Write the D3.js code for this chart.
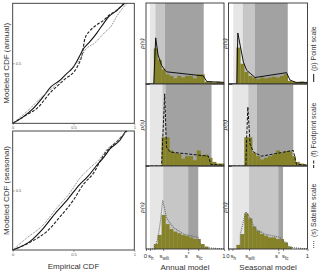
<!DOCTYPE html>
<html>
<head>
<meta charset="utf-8">
<script src="https://cdn.jsdelivr.net/npm/d3@7"></script>
<style>
  body { margin: 0; background: #fff; }
  svg { display: block; font-family: "Liberation Sans", Arial, sans-serif; }
</style>
</head>
<body>
<div></div>
<script>
// CDF comparison points [empirical, modeled]
const cdfAnnualPoint = [[0,0],[0.088,0.056],[0.17,0.125],[0.25,0.22],[0.31,0.30],[0.39,0.36],[0.44,0.41],[0.50,0.47],[0.55,0.56],[0.575,0.61],[0.635,0.68],[0.69,0.75],[0.76,0.85],[0.79,0.89],[0.83,0.92],[0.92,1]];
const cdfAnnualFoot = [[0,0],[0.115,0.07],[0.20,0.125],[0.31,0.255],[0.42,0.36],[0.53,0.47],[0.57,0.57],[0.595,0.71],[0.635,0.77],[0.69,0.82],[0.745,0.855],[0.79,0.90],[0.855,0.94],[0.915,1]];
const cdfAnnualSat = [[0,0],[0.115,0.097],[0.25,0.23],[0.39,0.35],[0.485,0.46],[0.55,0.53],[0.595,0.61],[0.675,0.67],[0.76,0.76],[0.81,0.81],[0.855,0.89],[0.94,1]];
const cdfSeasonalPoint = [[0,0],[0.14,0.07],[0.25,0.18],[0.36,0.32],[0.44,0.41],[0.55,0.55],[0.62,0.62],[0.69,0.71],[0.75,0.78],[0.80,0.85],[0.88,0.92],[0.93,1]];
const cdfSeasonalFoot = [[0,0],[0.17,0.08],[0.28,0.155],[0.39,0.28],[0.50,0.42],[0.58,0.55],[0.66,0.64],[0.75,0.80],[0.79,0.85],[0.855,0.91],[0.92,0.98],[0.94,1]];
const cdfSeasonalSat = [[0,0],[0.115,0.10],[0.25,0.21],[0.36,0.35],[0.47,0.48],[0.55,0.60],[0.635,0.69],[0.72,0.77],[0.77,0.84],[0.84,0.90],[0.93,0.99],[0.94,1]];
const cdfTicks = [0, 0.5, 1];

// histogram bins of soil moisture s
const binStarts = [0,0.05,0.1,0.15,0.2,0.25,0.3,0.35,0.4,0.45,0.5,0.55,0.6,0.65,0.7,0.75,0.8,0.85,0.9,0.95];
const binWidth = 0.05;
const histAnnualP = [0,0,0.44,0.30,0.18,0.12,0.10,0.07,0.10,0.08,0.10,0.10,0.07,0.12,0.12,0.03,0.03,0.02,0.03,0.02];
const histSeasonalP = [0,0,0.45,0.25,0.15,0.10,0.08,0.06,0.08,0.07,0.08,0.09,0.08,0.10,0.12,0.04,0.03,0.02,0.03,0.02];
const histAnnualF = [0,0,0,0,0.35,0.35,0.19,0.16,0.15,0.09,0.12,0.12,0.07,0.19,0.13,0.14,0.10,0.05,0.03,0.03];
const histSeasonalF = [0,0,0,0,0.35,0.35,0.16,0.12,0.08,0.10,0.12,0.14,0.19,0.16,0.18,0.18,0.12,0.05,0.03,0.02];
const histAnnualS = [0,0,0.06,0.17,0.41,0.30,0.24,0.21,0.19,0.17,0.16,0.14,0.12,0.12,0.06,0.03,0,0,0,0];
const histSeasonalS = [0,0,0.05,0.18,0.43,0.37,0.27,0.22,0.18,0.16,0.14,0.14,0.12,0.12,0.08,0.03,0,0,0,0];

// modeled pdf p(s) [s, p]
const pdfAnnualP = [[0,0],[0.10,0],[0.124,0.57],[0.154,0.36],[0.20,0.23],[0.244,0.17],[0.265,0.15],[0.735,0.10],[0.78,0.03],[1,0.02]];
const pdfSeasonalP = [[0,0],[0.106,0],[0.118,0.63],[0.147,0.48],[0.189,0.27],[0.23,0.17],[0.336,0.08],[0.735,0.14],[0.777,0.05],[0.85,0.02],[1,0.02]];
const pdfAnnualF = [[0,0],[0.20,0],[0.215,0.35],[0.24,0.88],[0.262,0.23],[0.31,0.17],[0.80,0.12],[0.83,0.02],[1,0.01]];
const pdfSeasonalF = [[0,0],[0.22,0],[0.23,0.35],[0.245,0.72],[0.273,0.27],[0.315,0.17],[0.42,0.12],[0.59,0.15],[0.82,0.19],[0.86,0.02],[1,0.01]];
const pdfAnnualS = [[0,0],[0.115,0],[0.158,0.16],[0.19,0.37],[0.214,0.59],[0.265,0.37],[0.35,0.26],[0.48,0.18],[0.67,0.14],[0.71,0.02],[1,0]];
const pdfSeasonalS = [[0,0],[0.147,0],[0.15,0.18],[0.22,0.45],[0.273,0.37],[0.336,0.24],[0.46,0.18],[0.65,0.14],[0.71,0.09],[0.78,0.02],[1,0]];

// thresholds [s_h, s_wilt, s*, s_fc]
const thrAnnualP = [0.05,0.12,0.24,0.74];
const thrSeasonalP = [0.06,0.18,0.33,0.75];
const thrAnnualF = [0.05,0.21,0.25,0.84];
const thrSeasonalF = [0.05,0.25,0.36,0.82];
const thrAnnualS = [0.05,0.22,0.54,0.67];
const thrSeasonalS = [0.05,0.26,0.63,0.69];

const scaleNames = ["(p) Point scale", "(f) Footprint scale", "(s) Satellite scale"];
const modelNames = ["Annual model", "Seasonal model"];

const w = 320;
const h = 271;
const svg = d3.select("div").append("svg").attr("width", w).attr("height", h);

const styles = [
  { color: "#111", width: 1.1, dash: null },
  { color: "#222", width: 1.1, dash: "3,1.5" },
  { color: "#777", width: 1, dash: "1,1" },
];

// ---- CDF panels ----
function cdfPanel(top, bottom, series, label) {
  const x = d3.scaleLinear().domain([0, 1]).range([12.7, 134.3]);
  const y = d3.scaleLinear().domain([0, 1]).range([bottom, top]);
  const g = svg.append("g");
  g.append("g")
    .attr("transform", "translate(0," + bottom + ")")
    .call(d3.axisBottom(x).tickValues(cdfTicks).tickSize(2).tickPadding(1).tickFormat(d3.format("")))
    .call((a) => a.select(".domain").remove())
    .selectAll("text").attr("font-size", 4).attr("fill", "#555");
  g.append("g")
    .attr("transform", "translate(" + x(0) + ",0)")
    .call(d3.axisRight(y).tickValues([0.5]).tickSize(2).tickPadding(1).tickFormat(d3.format("")))
    .call((a) => a.select(".domain").remove())
    .selectAll("text").attr("font-size", 4).attr("fill", "#555");
  g.selectAll(".tick line").attr("stroke", "#555").attr("stroke-width", 0.5);
  const line = d3.line().x((d) => x(d[0])).y((d) => y(d[1])).curve(d3.curveMonotoneX);
  series.forEach((s, i) => {
    g.append("path")
      .datum(s)
      .attr("d", line)
      .attr("fill", "none")
      .attr("stroke", styles[i].color)
      .attr("stroke-width", styles[i].width)
      .attr("stroke-dasharray", styles[i].dash);
  });
  g.append("rect")
    .attr("x", x(0)).attr("y", top)
    .attr("width", x(1) - x(0)).attr("height", bottom - top)
    .attr("fill", "none").attr("stroke", "#333").attr("stroke-width", 0.9);
  g.append("text")
    .attr("transform", "translate(9," + (top + bottom) / 2 + ") rotate(-90)")
    .attr("text-anchor", "middle")
    .attr("font-size", 8).attr("fill", "#333")
    .text(label);
}
cdfPanel(3.3, 123.3, [cdfAnnualPoint, cdfAnnualFoot, cdfAnnualSat], "Modeled CDF (annual)");
cdfPanel(131, 250, [cdfSeasonalPoint, cdfSeasonalFoot, cdfSeasonalSat], "Modeled CDF (seasonal)");
svg.append("text")
  .attr("x", 73.5).attr("y", 269)
  .attr("text-anchor", "middle")
  .attr("font-size", 8).attr("fill", "#333")
  .text("Empirical CDF");

// ---- pdf panels ----
const cols = [[146, 224], [228.5, 307.5]];
const rows = [[3, 84], [84, 166], [166, 249]];
const hists = [[histAnnualP, histSeasonalP], [histAnnualF, histSeasonalF], [histAnnualS, histSeasonalS]];
const pdfs = [[pdfAnnualP, pdfSeasonalP], [pdfAnnualF, pdfSeasonalF], [pdfAnnualS, pdfSeasonalS]];
const thrs = [[thrAnnualP, thrSeasonalP], [thrAnnualF, thrSeasonalF], [thrAnnualS, thrSeasonalS]];
const bandColors = ["#e6e6e6", "#c6c6c6", "#a2a2a2"];

rows.forEach((r, ri) => {
  cols.forEach((c, ci) => {
    const x = d3.scaleLinear().domain([0, 1]).range(c);
    const y = d3.scaleLinear().domain([0, 1]).range([r[1], r[0]]);
    const g = svg.append("g");
    const t = thrs[ri][ci];
    g.selectAll("rect.band")
      .data([0, 1, 2])
      .enter()
      .append("rect")
      .attr("x", (d) => x(t[d]))
      .attr("y", r[0])
      .attr("width", (d) => x(t[d + 1]) - x(t[d]))
      .attr("height", r[1] - r[0])
      .attr("fill", (d) => bandColors[d]);
    g.selectAll("rect.bar")
      .data(hists[ri][ci])
      .enter()
      .append("rect")
      .attr("x", (d, i) => x(binStarts[i]))
      .attr("y", (d) => y(d))
      .attr("width", x(binWidth) - x(0) + 0.2)
      .attr("height", (d) => y(0) - y(d))
      .attr("fill", "#85822a");
    g.append("path")
      .datum(pdfs[ri][ci])
      .attr("d", d3.line().x((d) => x(d[0])).y((d) => y(d[1])))
      .attr("fill", "none")
      .attr("stroke", styles[ri].color)
      .attr("stroke-width", ri === 2 ? 1.1 : 1)
      .attr("stroke-dasharray", ri === 0 ? null : ri === 1 ? "3,1.5" : "1,1")
      .attr("stroke", ri === 2 ? "#666" : "#111");
    g.append("rect")
      .attr("x", c[0]).attr("y", r[0])
      .attr("width", c[1] - c[0]).attr("height", r[1] - r[0])
      .attr("fill", "none").attr("stroke", "#333").attr("stroke-width", 0.9);
    g.append("text")
      .attr("transform", "translate(" + (c[0] - 2) + "," + (r[0] + r[1]) / 2 + ") rotate(-90)")
      .attr("text-anchor", "middle")
      .attr("font-size", 6).attr("font-style", "italic").attr("fill", "#333")
      .text("p(s)");

    if (ri === 2) {
      const ticks = [0].concat(t).concat([1]);
      g.append("g")
        .attr("transform", "translate(0," + r[1] + ")")
        .call(d3.axisBottom(x).tickValues(ticks).tickSize(2).tickFormat(""))
        .call((a) => a.select(".domain").remove())
        .selectAll(".tick line").attr("stroke", "#333").attr("stroke-width", 0.6);
      const labs = [
        { v: 0, main: "0", sub: "", sup: "", anchor: "end", dx: 1 },
        { v: t[0], main: "s", sub: "h", sup: "", anchor: "start", dx: -2 },
        { v: t[1], main: "s", sub: "wilt", sup: "", anchor: "middle", dx: 1 },
        { v: t[2], main: "s", sub: "", sup: "*", anchor: "end", dx: 1.5 },
        { v: t[3], main: "s", sub: "fc", sup: "", anchor: ci === 1 ? "start" : "middle", dx: ci === 1 ? -1 : 1 },
        { v: 1, main: "1", sub: "", sup: "", anchor: "middle", dx: 0 },
      ];
      labs.forEach((l) => {
        const tx = g.append("text")
          .attr("x", x(l.v) + l.dx).attr("y", r[1] + 9)
          .attr("text-anchor", l.anchor)
          .attr("font-size", 6).attr("fill", "#333")
          .text(l.main);
        if (l.sub) tx.append("tspan").attr("dy", 1.5).attr("font-size", 4.5).text(l.sub);
        if (l.sup) tx.append("tspan").attr("dy", -2.5).attr("font-size", 4.5).text(l.sup);
      });
      g.append("text")
        .attr("x", (c[0] + c[1]) / 2).attr("y", 270)
        .attr("text-anchor", "middle")
        .attr("font-size", 8).attr("fill", "#333")
        .text(modelNames[ci]);
    }
  });

  // legend on the right margin
  const starts = [82, 168, 248];
  const lg = svg.append("g").attr("transform", "translate(316," + starts[ri] + ") rotate(-90)");
  lg.append("line")
    .attr("x1", 0).attr("x2", 8).attr("y1", -2.3).attr("y2", -2.3)
    .attr("stroke", ri === 2 ? "#555" : "#111")
    .attr("stroke-width", 1)
    .attr("stroke-dasharray", ri === 0 ? null : ri === 1 ? "3,1.5" : "1,1");
  lg.append("text")
    .attr("x", 11).attr("y", 0)
    .attr("font-size", 7).attr("fill", "#333")
    .text(scaleNames[ri]);
});
</script>
</body>
</html>
